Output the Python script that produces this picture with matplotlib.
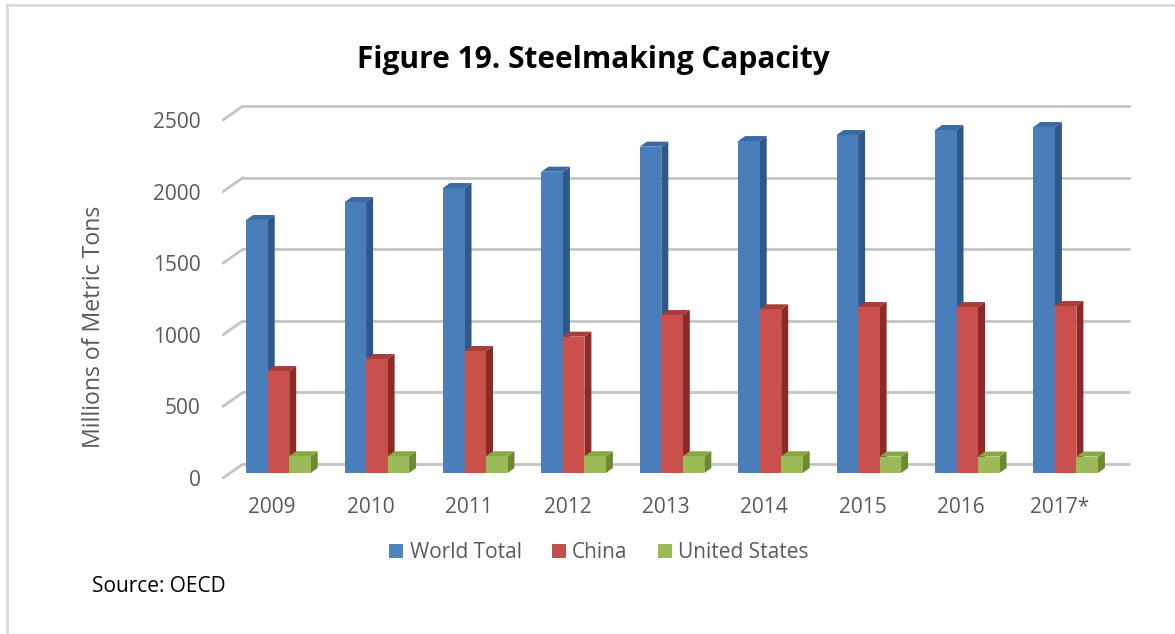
import matplotlib
matplotlib.use("Agg")
import matplotlib.pyplot as plt
from matplotlib.patches import Polygon, Patch
from matplotlib.lines import Line2D

# ---------------- data ----------------
years = ["2009", "2010", "2011", "2012", "2013", "2014", "2015", "2016", "2017*"]
world_total = [1767, 1892, 1990, 2104, 2279, 2318, 2360, 2395, 2416]
china = [712, 796, 852, 952, 1103, 1143, 1159, 1159, 1166]
united_states = [117, 117, 117, 117, 117, 117, 115, 115, 115]
series_names = ["World Total", "China", "United States"]
y_ticks = [0, 500, 1000, 1500, 2000, 2500]

# ---------------- styles ----------------
front_colors = ["#4A7EBB", "#C9504B", "#9BBB59"]
side_colors = ["#2D5889", "#8C2A27", "#6D8A33"]
top_colors = ["#3A69A3", "#A93D39", "#87A843"]
legend_colors = ["#4F81BD", "#C0504D", "#9BBB59"]
grid_color = "#C4C4C4"
text_color = "#595959"
FONT = "Open Sans"

W, H, DPI = 1175, 634, 100
fig = plt.figure(figsize=(W / DPI, H / DPI), dpi=DPI)

# front plane of the plot in pixels
ax_left_px, ax_right_px = 223, 1108.6
ax_bottom_px, ax_top_px = 478, 120
ax = fig.add_axes([ax_left_px / W, (H - ax_bottom_px) / H,
                   (ax_right_px - ax_left_px) / W, (ax_bottom_px - ax_top_px) / H])
n = len(years)
ax.set_xlim(-0.5, n - 0.5)
ax.set_ylim(0, 2500)
for s in ax.spines.values():
    s.set_visible(False)
ax.set_facecolor("none")

# pixel -> data conversion factors
px_x = n / (ax_right_px - ax_left_px)            # data units per px in x
px_y = 2500 / (ax_bottom_px - ax_top_px)         # data units per px in y

# 3D geometry (in px)
WALL_DX, WALL_DY = 20, 14     # back wall offset
BAR_DX, BAR_DY = 7, 5         # bar depth
LIFT_DY = 5                   # bars sit mid-depth
bar_w = 21.5 * px_x
bar_left = [-26 * px_x, -4.5 * px_x, 17 * px_x]

# back wall gridlines and left wall diagonals
wdx, wdy = WALL_DX * px_x, WALL_DY * px_y
for v in y_ticks:
    ax.plot([-0.5 + wdx, n - 0.5 + wdx], [v + wdy, v + wdy], color=grid_color,
            lw=2.0, solid_capstyle="round", zorder=1, clip_on=False)
    ax.plot([-0.5, -0.5 + wdx], [v, v + wdy], color=grid_color, lw=2.0,
            solid_capstyle="round", zorder=1, clip_on=False)

# bars
bdx, bdy = BAR_DX * px_x, BAR_DY * px_y
lift = LIFT_DY * px_y
all_series = [world_total, china, united_states]
z = 2
for i in range(n):
    for j, vals in enumerate(all_series):
        v = vals[i]
        x0 = i + bar_left[j]
        x1 = x0 + bar_w
        y0 = lift
        y1 = lift + v
        side = Polygon([(x1, y0), (x1 + bdx, y0 + bdy), (x1 + bdx, y1 + bdy), (x1, y1)],
                       closed=True, facecolor=side_colors[j], edgecolor="none",
                       zorder=z, clip_on=False)
        top = Polygon([(x0, y1), (x0 + bdx, y1 + bdy), (x1 + bdx, y1 + bdy), (x1, y1)],
                      closed=True, facecolor=top_colors[j], edgecolor="none",
                      zorder=z, clip_on=False)
        ax.add_patch(side)
        ax.add_patch(top)
        ax.bar(x0, v, width=bar_w, bottom=y0, align="edge", color=front_colors[j],
               edgecolor="none", zorder=z + 0.5, clip_on=False)
        z += 1

# ticks
ax.set_xticks(range(n))
ax.set_xticklabels(years, fontsize=15, color=text_color, fontfamily=FONT)
ax.set_yticks(y_ticks)
ax.set_yticklabels([str(t) for t in y_ticks], fontsize=15, color=text_color,
                   fontfamily=FONT)
ax.tick_params(axis="both", length=0)
ax.tick_params(axis="x", pad=14)
ax.tick_params(axis="y", pad=16)

# y label
fig.text(93.5 / W, 1 - 327 / H, "Millions of Metric Tons", rotation=90,
         ha="center", va="center", fontsize=16.6, color=text_color, fontfamily=FONT)

# title
fig.text(593.5 / W, 1 - 60 / H, "Figure 19. Steelmaking Capacity", ha="center",
         va="center", fontsize=21.5, fontweight="bold", color="#000000", fontfamily=FONT)

# legend
handles = [Patch(facecolor=c, edgecolor="none") for c in legend_colors]
leg = fig.legend(handles, series_names, loc="center", ncol=3,
                 bbox_to_anchor=(599 / W, 1 - 553 / H), frameon=False,
                 handlelength=0.67, handleheight=0.67, handletextpad=0.3,
                 columnspacing=1.45, prop={"family": FONT, "size": 15})
for t in leg.get_texts():
    t.set_color(text_color)

# source
fig.text(92 / W, 1 - 586 / H, "Source: OECD", ha="left", va="center",
         fontsize=15, color="#000000", fontfamily=FONT)

# chart border (left and top edges)
fig.add_artist(Line2D([7 / W, 7 / W], [0, 1 - 5 / H], color="#D9D9D9", lw=2,
                      transform=fig.transFigure))
fig.add_artist(Line2D([7 / W, 1], [1 - 5 / H, 1 - 5 / H], color="#D9D9D9", lw=2,
                      transform=fig.transFigure))

fig.savefig("out.png", dpi=DPI, facecolor="white")
